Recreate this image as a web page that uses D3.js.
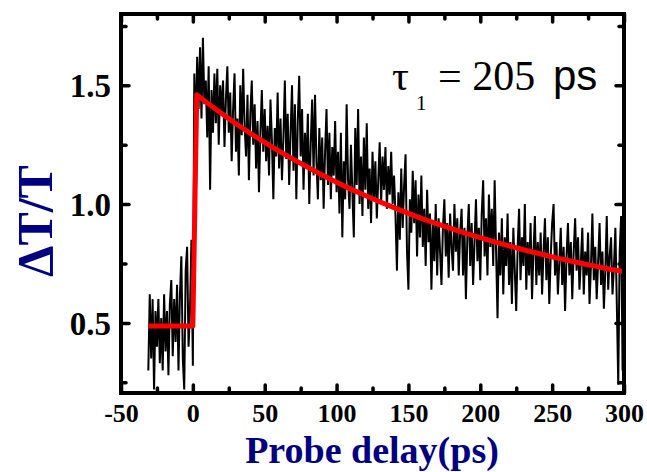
<!DOCTYPE html>
<html>
<head>
<meta charset="utf-8">
<script src="https://cdn.jsdelivr.net/npm/d3@7"></script>
<style>
	body { margin: 0; background: #fff; }
	svg { display: block; }
</style>
</head>
<body>
<div id="chart"></div>
<script>

// measured signal: first delay and step (ps), then dT/T per step
let delayStart = -31;
let delayStep = 1;
let signal = [
	0.30, 0.62, 0.35, 0.60, 0.22, 0.55, 0.40, 0.60, 0.33, 0.52,
	0.30, 0.62, 0.38, 0.55, 0.28, 0.58, 0.68, 0.36, 0.60, 0.42,
	0.66, 0.30, 0.62, 0.78, 0.35, 0.22, 0.72, 0.82, 0.40, 0.55,
	0.85, 0.32,
	1.55, 1.30, 1.62, 1.40, 1.66, 1.36, 1.70, 1.42, 1.52, 1.28,
	1.58, 1.06, 1.48, 1.30, 1.55, 1.34, 1.57, 1.25, 1.50, 1.38,
	1.52, 1.24, 1.44, 1.58, 1.30, 1.47, 1.18, 1.40, 1.55, 1.22,
	1.36, 1.12, 1.50, 1.29, 1.57, 1.33, 1.20, 1.46, 1.10, 1.38,
	1.52, 1.25, 1.42, 1.15, 1.35, 1.05, 1.30, 1.48, 1.22, 1.40,
	1.18, 1.33, 1.12, 1.44, 1.27, 1.02, 1.32, 1.20, 1.47, 1.15,
	1.36, 1.10, 1.28, 1.52, 1.19, 1.38, 1.08, 1.30, 1.50, 1.14,
	1.42, 1.02, 1.35, 1.54,
	1.20, 1.40, 1.06, 1.30, 1.15, 1.38, 1.00, 1.25, 1.44, 1.12,
	1.46, 1.18, 1.02, 1.32, 1.10, 1.28, 0.98, 1.22, 1.40, 1.08,
	1.30, 1.02, 1.24, 1.12, 1.35, 1.05, 1.22, 0.96, 1.30, 0.86,
	1.18, 1.02, 1.42, 1.10, 0.98, 1.25, 1.05, 0.86, 1.32, 1.08,
	1.40, 1.00, 1.20, 0.95, 1.28, 1.06, 1.34, 0.98, 1.15, 0.92,
	1.22, 1.02, 1.18, 0.94, 1.10, 1.26,
	1.00, 1.20, 1.06, 1.24, 0.98, 1.16, 1.04, 1.22, 1.00, 1.12,
	0.95, 0.72, 1.05, 0.85, 1.15, 0.90, 1.08, 1.21, 0.80, 0.64,
	1.02, 0.88, 1.14, 0.92, 1.10, 0.78, 1.04, 0.86, 1.12, 0.82,
	0.98, 0.74, 1.06, 0.84, 0.96, 0.64, 0.92, 0.76, 1.00, 0.70,
	0.94, 0.80, 0.66, 0.90, 1.02, 0.78, 0.92, 0.69, 0.96, 0.82,
	0.72, 1.00, 0.80, 0.94, 0.70, 0.88,
	0.98, 0.70, 0.90, 0.60, 0.86, 1.00, 0.74, 0.92, 0.66, 0.84,
	1.02, 0.76, 0.90, 0.68, 0.96, 1.10, 0.78, 0.94, 0.70, 1.04,
	0.82, 0.98, 0.74, 1.10, 0.80, 0.52, 0.88, 0.70, 0.94, 0.62,
	0.86, 0.74, 0.96, 0.66, 0.84, 0.58, 0.90, 0.72, 0.55, 0.82,
	0.98, 0.68, 0.86, 0.74, 1.00, 0.64, 0.84, 0.70, 0.92, 0.60,
	0.80, 0.95, 0.66, 0.84, 0.70,
	0.88, 0.62, 0.80, 0.94, 0.68, 0.86, 0.58, 0.78, 0.92, 1.00,
	0.70, 0.84, 0.62, 0.76, 0.90, 0.66, 0.82, 0.55, 0.78, 0.92,
	0.70, 0.84, 0.60, 0.80, 0.94, 0.72, 0.86, 0.64, 0.76, 0.90,
	0.62, 0.80, 0.70, 0.88, 0.58, 0.74, 0.96, 0.68, 0.82, 0.60,
	0.76, 0.92, 0.66, 0.80, 0.56, 0.72, 0.95, 0.64, 0.78, 0.86,
	0.62, 0.74, 0.90, 0.58, 0.24, 0.80, 0.95, 0.30, 0.88
];

// single exponential fit (tau = 205 ps)
let fitDelay = [-31, 0, 2.7, 10, 20, 30, 40, 50, 60, 70, 80, 90, 100, 110, 120, 130, 140,
	150, 160, 170, 180, 190, 200, 210, 220, 230, 240, 250, 260, 270, 280, 290, 300];
let fitValue = [0.487, 0.487, 1.46, 1.426, 1.381, 1.338, 1.298, 1.260, 1.223, 1.188, 1.155, 1.122,
	1.092, 1.063, 1.036, 1.010, 0.985, 0.961, 0.938, 0.917, 0.897, 0.877, 0.859, 0.841,
	0.824, 0.808, 0.793, 0.778, 0.764, 0.751, 0.739, 0.726, 0.716];

let xMajor = [-50, 0, 50, 100, 150, 200, 250, 300];
let xMinor = [-25, 25, 75, 125, 175, 225, 275];
let yMajor = [0.5, 1.0, 1.5];
let yMinor = [0.25, 0.75, 1.25, 1.75];

let width = 647, height = 472;
let margin = { top: 14, right: 23, bottom: 79, left: 121 };

let svg = d3.select("#chart").append("svg")
	.attr("width", width)
	.attr("height", height);

let x = d3.scaleLinear()
	.domain([-50, 300])
	.range([margin.left, width - margin.right]);

let y = d3.scaleLinear()
	.domain([0.205, 1.8])
	.range([height - margin.bottom, margin.top]);

let data = signal.map((v, i) => ({ t: delayStart + i * delayStep, v: v }));
let fit = fitDelay.map((t, i) => ({ t: t, v: fitValue[i] }));

let plotBottom = height - margin.bottom, plotTop = margin.top;
let plotLeft = margin.left, plotRight = width - margin.right;

svg.append("clipPath")
	.attr("id", "plotClip")
	.append("rect")
	.attr("x", plotLeft)
	.attr("y", plotTop)
	.attr("width", plotRight - plotLeft)
	.attr("height", plotBottom - plotTop);

let plot = svg.append("g").attr("clip-path", "url(#plotClip)");

plot.append("path")
	.datum(data)
	.attr("fill", "none")
	.attr("stroke", "#000")
	.attr("stroke-width", 2)
	.attr("d", d3.line().x(d => x(d.t)).y(d => y(d.v)));

plot.append("path")
	.datum(fit)
	.attr("fill", "none")
	.attr("stroke", "#ff0000")
	.attr("stroke-width", 5)
	.attr("stroke-linejoin", "round")
	.attr("d", d3.line().x(d => x(d.t)).y(d => y(d.v)));

// ticks point inwards on all four sides
function ticks(axis, vals, size, fmt) {
	return axis.tickValues(vals).tickSizeInner(-size).tickSizeOuter(0).tickPadding(8).tickFormat(fmt);
}
let noLabel = () => "";

let gx = svg.append("g").attr("transform", `translate(0,${plotBottom})`)
	.call(ticks(d3.axisBottom(x), xMajor, 8, d => String(d)));
svg.append("g").attr("transform", `translate(0,${plotBottom})`)
	.call(ticks(d3.axisBottom(x), xMinor, 5, noLabel));
svg.append("g").attr("transform", `translate(0,${plotTop})`)
	.call(ticks(d3.axisTop(x), xMajor, 8, noLabel));
svg.append("g").attr("transform", `translate(0,${plotTop})`)
	.call(ticks(d3.axisTop(x), xMinor, 5, noLabel));

let gy = svg.append("g").attr("transform", `translate(${plotLeft},0)`)
	.call(ticks(d3.axisLeft(y), yMajor, 8, d3.format(".1f")));
svg.append("g").attr("transform", `translate(${plotLeft},0)`)
	.call(ticks(d3.axisLeft(y), yMinor, 5, noLabel));
svg.append("g").attr("transform", `translate(${plotRight},0)`)
	.call(ticks(d3.axisRight(y), yMajor, 8, noLabel));
svg.append("g").attr("transform", `translate(${plotRight},0)`)
	.call(ticks(d3.axisRight(y), yMinor, 5, noLabel));

svg.selectAll(".domain").remove();
// drop the empty labels of the unlabelled axes
svg.selectAll(".tick text").filter(function () { return this.textContent === ""; }).remove();
svg.selectAll(".tick line")
	.attr("stroke", "#000")
	.attr("stroke-width", 3.5)
	.attr("stroke-linecap", "round");

gx.selectAll("text")
	.attr("font-family", "'Liberation Serif', serif")
	.attr("font-weight", "bold")
	.attr("font-size", 26)
	.attr("fill", "#000")
	.attr("y", 11)
	.attr("dy", "0.71em");

gy.selectAll("text")
	.attr("font-family", "'Liberation Serif', serif")
	.attr("font-weight", "bold")
	.attr("font-size", 33)
	.attr("fill", "#000")
	.attr("x", -10)
	.attr("dy", "0.35em");

// frame
svg.append("rect")
	.attr("x", plotLeft)
	.attr("y", plotTop)
	.attr("width", plotRight - plotLeft)
	.attr("height", plotBottom - plotTop)
	.attr("fill", "none")
	.attr("stroke", "#000")
	.attr("stroke-width", 4);

// axis titles
svg.append("text")
	.attr("transform", "translate(52,221) rotate(-90)")
	.attr("text-anchor", "middle")
	.attr("font-family", "'Liberation Serif', serif")
	.attr("font-weight", "bold")
	.attr("font-size", 50)
	.attr("fill", "#000080")
	.text("ΔT/T");

svg.append("text")
	.attr("x", 372)
	.attr("y", 463)
	.attr("text-anchor", "middle")
	.attr("font-family", "'Liberation Serif', serif")
	.attr("font-weight", "bold")
	.attr("font-size", 38)
	.attr("fill", "#000080")
	.text("Probe delay(ps)");

// lifetime annotation
let note = svg.append("text")
	.attr("x", 392)
	.attr("y", 90)
	.attr("font-family", "'Liberation Serif', serif")
	.attr("font-size", 42)
	.attr("fill", "#000");
note.append("tspan").text("τ");
note.append("tspan").attr("x", 416).attr("y", 110).attr("font-size", 21).text("1");
note.append("tspan").attr("x", 438).attr("y", 90).text("= 205");
note.append("tspan").attr("x", 553).attr("font-family", "'Liberation Sans', sans-serif").text("ps");

</script>
</body>
</html>
